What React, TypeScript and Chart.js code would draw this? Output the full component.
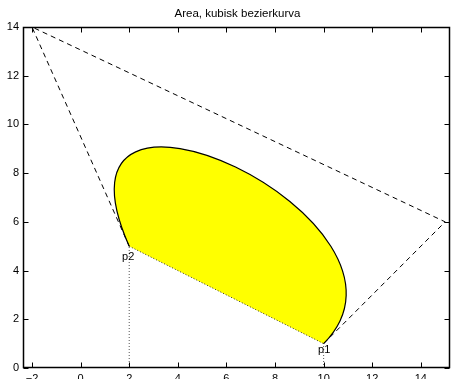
import React, { useEffect, useRef } from 'react';
import { Chart, registerables } from 'chart.js';

Chart.register(...registerables);

const titleText = 'Area, kubisk bezierkurva';
const controlX = [10, 15, -2, 2];
const controlY = [1, 6, 14, 5];
const pointLabels = ['p1', 'p2'];
const xTicks = [-2, 0, 2, 4, 6, 8, 10, 12, 14];
const yTicks = [0, 2, 4, 6, 8, 10, 12, 14];
const xRange = [-2.37, 15.2];
const yRange = [0, 14];

const W = 451;
const H = 392;
const FONT = '"Liberation Sans", Arial, Helvetica, sans-serif';

const controlPts = controlX.map((x, i) => ({ x, y: controlY[i] }));
const pStart = controlPts[0];
const pEnd = controlPts[controlPts.length - 1];

const bezierPlugin = {
  id: 'bezierArea',
  beforeDatasetsDraw(chart: any) {
    const { ctx, scales } = chart;
    const xs = scales.x, ys = scales.y;
    const p = controlPts.map((pt) => [xs.getPixelForValue(pt.x), ys.getPixelForValue(pt.y)]);
    ctx.save();
    ctx.beginPath();
    ctx.moveTo(p[0][0], p[0][1]);
    ctx.bezierCurveTo(p[1][0], p[1][1], p[2][0], p[2][1], p[3][0], p[3][1]);
    ctx.closePath();
    ctx.fillStyle = '#ffff00';
    ctx.fill();
    ctx.beginPath();
    ctx.moveTo(p[0][0], p[0][1]);
    ctx.bezierCurveTo(p[1][0], p[1][1], p[2][0], p[2][1], p[3][0], p[3][1]);
    ctx.strokeStyle = '#000';
    ctx.lineWidth = 1.2;
    ctx.stroke();
    ctx.restore();
  },
  afterDatasetsDraw(chart: any) {
    const { ctx, scales } = chart;
    const xs = scales.x, ys = scales.y;
    ctx.save();
    ctx.fillStyle = '#000';
    ctx.font = `11px ${FONT}`;
    ctx.textAlign = 'center';
    ctx.textBaseline = 'alphabetic';
    const pts = [pStart, pEnd];
    const offs = [
      [0.5, 9.5],
      [-1, 14],
    ];
    pts.forEach((pt, i) => {
      const px = xs.getPixelForValue(pt.x);
      const py = ys.getPixelForValue(pt.y);
      ctx.fillText(pointLabels[i], px + offs[i][0], py + offs[i][1]);
    });
    ctx.restore();
  },
};

const framePlugin = {
  id: 'frame',
  afterDraw(chart: any) {
    const { ctx, chartArea: a, scales } = chart;
    const xs = scales.x, ys = scales.y;
    const L = Math.round(a.left) + 0.5;
    const R = Math.round(a.right) - 0.5;
    const T = Math.round(a.top) + 0.5;
    const B = Math.round(a.bottom) - 0.5;
    ctx.save();
    ctx.strokeStyle = '#000';
    ctx.lineWidth = 1;
    ctx.beginPath();
    xs.ticks.forEach((t: any) => {
      const px = Math.round(xs.getPixelForValue(t.value)) + 0.5;
      ctx.moveTo(px, B);
      ctx.lineTo(px, B - 5);
      ctx.moveTo(px, T);
      ctx.lineTo(px, T + 5);
    });
    ys.ticks.forEach((t: any) => {
      const py = Math.round(ys.getPixelForValue(t.value)) + 0.5;
      ctx.moveTo(L, py);
      ctx.lineTo(L + 5, py);
      ctx.moveTo(R, py);
      ctx.lineTo(R - 5, py);
    });
    ctx.stroke();
    ctx.lineWidth = 1.5;
    ctx.strokeRect(L, T, R - L, B - T);
    ctx.font = `11.5px ${FONT}`;
    ctx.fillStyle = '#000';
    ctx.textAlign = 'center';
    ctx.textBaseline = 'middle';
    ctx.fillText(titleText, (a.left + a.right) / 2 + 1, 14);
    ctx.restore();
  },
};

export default function App() {
  const ref = useRef<HTMLCanvasElement | null>(null);
  useEffect(() => {
    document.body.style.margin = '0';
    const canvas = ref.current!;
    const chart = new Chart(canvas, {
      type: 'scatter',
      data: {
        datasets: [
          {
            data: controlPts,
            showLine: true,
            borderColor: '#000',
            borderWidth: 1,
            borderDash: [5, 4],
            pointRadius: 0,
            fill: false,
          },
          {
            data: [pEnd, pStart],
            showLine: true,
            borderColor: '#333',
            borderWidth: 1,
            borderDash: [1, 2],
            pointRadius: 0,
            fill: false,
          },
          {
            data: [{ x: pEnd.x, y: yRange[0] }, pEnd],
            showLine: true,
            borderColor: '#555',
            borderWidth: 1,
            borderDash: [1, 2],
            pointRadius: 0,
            fill: false,
          },
          {
            data: [{ x: pStart.x, y: yRange[0] }, pStart],
            showLine: true,
            borderColor: '#555',
            borderWidth: 1,
            borderDash: [1, 2],
            pointRadius: 0,
            fill: false,
          },
        ],
      },
      options: {
        animation: false,
        responsive: false,
        maintainAspectRatio: false,
        layout: { padding: { top: 27, right: 1, left: 0, bottom: 0 } },
        plugins: {
          legend: { display: false },
          title: { display: false },
          tooltip: { enabled: false },
        },
        scales: {
          x: {
            type: 'linear',
            min: xRange[0],
            max: xRange[1],
            afterBuildTicks: (s: any) => {
              s.ticks = xTicks.map((v) => ({ value: v }));
            },
            afterFit: (s: any) => {
              s.height = H - 368;
            },
            grid: { display: false, drawTicks: false },
            border: { display: false },
            ticks: {
              color: '#000',
              font: { family: FONT, size: 11 },
              padding: 4,
              maxRotation: 0,
              autoSkip: false,
              callback: (v: any) => (Number(v) < 0 ? '\u2212' + Math.abs(Number(v)) : String(v)),
            },
          },
          y: {
            type: 'linear',
            min: yRange[0],
            max: yRange[1],
            afterBuildTicks: (s: any) => {
              s.ticks = yTicks.map((v) => ({ value: v }));
            },
            afterFit: (s: any) => {
              s.width = 23;
            },
            grid: { display: false, drawTicks: false },
            border: { display: false },
            ticks: {
              color: '#000',
              font: { family: FONT, size: 11 },
              padding: 4,
              autoSkip: false,
            },
          },
        },
      },
      plugins: [bezierPlugin, framePlugin],
    } as any);
    return () => chart.destroy();
  }, []);
  return <canvas ref={ref} width={W} height={H} style={{ display: 'block', width: W, height: H }} />;
}
